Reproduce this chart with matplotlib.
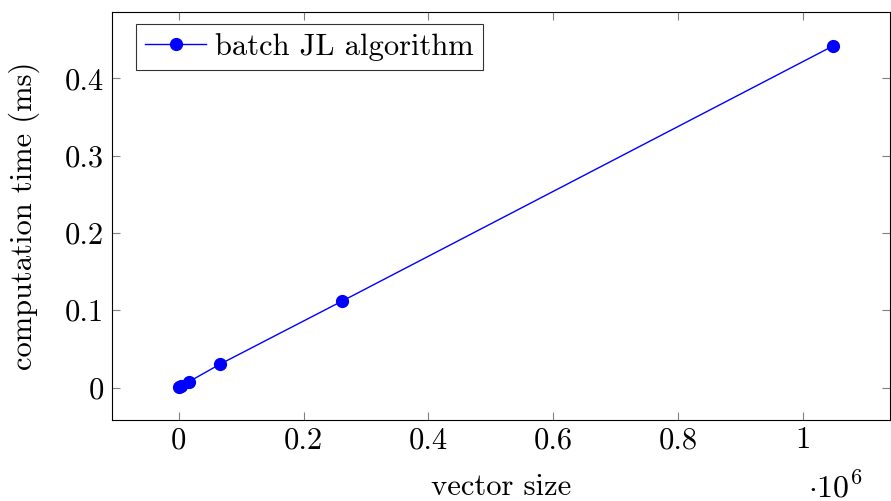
import matplotlib.pyplot as plt
import numpy as np

plt.rcParams["font.family"] = "cmr10"
plt.rcParams["mathtext.fontset"] = "cm"
plt.rcParams["axes.formatter.use_mathtext"] = True

vector_size = [1024, 4096, 16384, 65536, 262144, 1048576]
comp_time = [0.0012, 0.0025, 0.0076, 0.030, 0.112, 0.442]

fig = plt.figure(figsize=(8.91, 5.01), dpi=100)
ax = fig.add_axes([112 / 891, 81 / 501, 778 / 891, 408 / 501])

x = np.array(vector_size) / 1e6
ax.plot(x, comp_time, color="blue", linewidth=1.0, marker="o", markersize=8.5,
        label="batch JL algorithm")

ax.set_xlim(-0.107, 1.14)
ax.set_ylim(-0.042, 0.486)
ax.set_xticks([0, 0.2, 0.4, 0.6, 0.8, 1])
ax.set_xticklabels(["0", "0.2", "0.4", "0.6", "0.8", "1"])
ax.set_yticks([0, 0.1, 0.2, 0.3, 0.4])
ax.set_yticklabels(["0", "0.1", "0.2", "0.3", "0.4"])

ax.tick_params(direction="in", top=True, right=True, length=6, width=0.8,
               color="#808080", labelsize=22)
ax.tick_params(axis="x", pad=5)
ax.tick_params(axis="y", pad=6)
for s in ax.spines.values():
    s.set_linewidth(0.8)

ax.set_xlabel("vector size", fontsize=22, labelpad=14)
ax.set_ylabel("computation time (ms)", fontsize=22, labelpad=18)
ax.text(0.93, -0.188, r"$\cdot 10^6$", transform=ax.transAxes, fontsize=23,
        ha="center", va="baseline")

leg = ax.legend(loc="upper left", bbox_to_anchor=(24 / 778, 1 - 12 / 408),
                fontsize=22, frameon=True, fancybox=False,
                edgecolor="black", handlelength=2.0, handletextpad=0.3,
                borderpad=0.3, borderaxespad=0.0)
leg.get_frame().set_linewidth(0.8)

plt.savefig("out.png", dpi=100)
